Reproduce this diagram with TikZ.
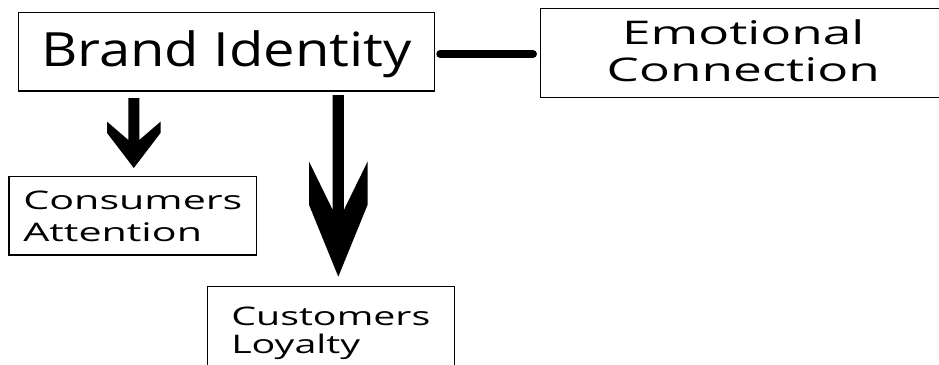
\documentclass[tikz,border=0pt]{standalone}
\usepackage{fontspec}
\setmainfont{Open Sans}
\usepackage{graphicx}
\usetikzlibrary{calc}

\tikzset{
  box/.style={draw=black, line width=1.3pt, inner sep=0pt, fill=white},
  link/.style={draw=black, line width=7.8pt, line cap=round},
  bigarrow/.style={fill=black, draw=none},
}
% lower the ink of a label without changing its box
\newcommand{\lowerby}[2]{\raisebox{-#1pt}[\height][\depth]{#2}}

\begin{document}
\begin{tikzpicture}[x=1pt, y=-1pt]
  \fill[white] (0,0) rectangle (939,364);
  \useasboundingbox (0,0) rectangle (939,364);
  \clip (0,0) rectangle (939,364);

  % boxes
  \node[box, minimum width=416pt, minimum height=78.5pt] (brand) at (226.6,51.75)
    {\lowerby{2.5}{\resizebox{371pt}{\height}{\fontsize{47.2}{56}\selectfont Brand Identity}}};
  \node[box, minimum width=405pt, minimum height=89pt] (emo) at (743.2,52.8)
    {\lowerby{3}{\resizebox{273pt}{\height}{\fontsize{32.6}{36.7}\selectfont\begin{tabular}{@{}c@{}}Emotional\\Connection\end{tabular}}}};
  \node[box, minimum width=247.7pt, minimum height=78.3pt] (cons) at (132.85,215.85)
    {\lowerby{3.5}{\resizebox{219pt}{\height}{\fontsize{25.6}{31.7}\selectfont\begin{tabular}{@{}l@{}}Consumers\\Attention\end{tabular}}}};
  \node[box, minimum width=247pt, minimum height=88pt] (cust) at (330.8,330.7)
    {\lowerby{3.5}{\resizebox{199pt}{\height}{\fontsize{25.6}{26.7}\selectfont\begin{tabular}{@{}l@{}}Customers\\Loyalty\end{tabular}}}};

  % thick link between identity and emotion
  \draw[link, shorten <=4.9pt, shorten >=7pt]
    ([yshift=-2.2pt]brand.east) -- ([yshift=-2.2pt]brand.east -| emo.west);

  % arrow to consumers attention
  \coordinate (a1s) at (133.8,98);
  \coordinate (a1e) at ($(a1s)+(0,70)$);
  \fill[bigarrow]
    ($(a1s)+(-5.5,0)$) -- ($(a1s)+(-5.5,42)$) -- ($(a1s)+(-26.7,23.7)$)
    -- ($(a1s)+(-26.7,35)$) -- (a1e) -- ($(a1s)+(26.7,35)$)
    -- ($(a1s)+(26.7,23.7)$) -- ($(a1s)+(5.5,42)$) -- ($(a1s)+(5.5,0)$) -- cycle;

  % arrow to customers loyalty
  \coordinate (a2s) at (338.3,95);
  \coordinate (a2e) at ($(a2s)+(0,181.7)$);
  \fill[bigarrow]
    ($(a2s)+(-5.6,0)$) -- ($(a2s)+(-5.6,115)$) -- ($(a2s)+(-29.2,66.7)$)
    -- ($(a2s)+(-29.2,110)$) -- (a2e) -- ($(a2s)+(29.2,110)$)
    -- ($(a2s)+(29.2,66.7)$) -- ($(a2s)+(5.6,115)$) -- ($(a2s)+(5.6,0)$) -- cycle;
\end{tikzpicture}
\end{document}
